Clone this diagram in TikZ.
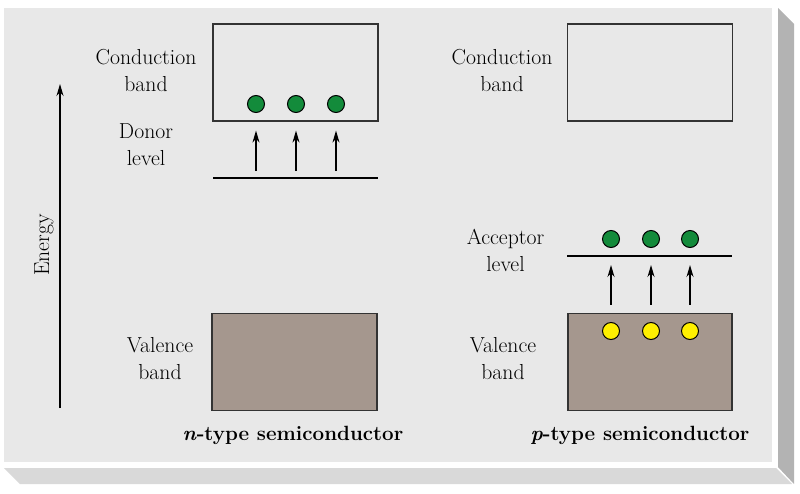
\documentclass[tikz,border=0pt]{standalone}
\usetikzlibrary{arrows.meta, positioning, calc}

\definecolor{panel}{HTML}{E8E8E8}
\definecolor{sidegray}{HTML}{B3B3B3}
\definecolor{basegray}{HTML}{D9D9D9}
\definecolor{valfill}{HTML}{A5978E}
\definecolor{elec}{HTML}{138B3B}
\definecolor{holec}{HTML}{FFF000}

\begin{document}
\begin{tikzpicture}[x=1pt,y=-1pt,
    band/.style={draw=black!80,line width=1.2pt,minimum width=165pt,minimum height=97pt,inner sep=0},
    electron/.style={circle,draw=black,line width=1pt,fill=elec,minimum size=17pt,inner sep=0},
    hole/.style={electron,fill=holec},
    lbl/.style={align=center,font=\fontsize{21.7}{27}\selectfont,inner sep=0,anchor=base},
    caption/.style={lbl,font=\fontsize{20.6}{27}\selectfont\bfseries},
    up/.style={-{Stealth[length=12pt,width=7pt]},line width=1.2pt}]
        \useasboundingbox (0,0) rectangle (800,493);

        % panel with its bevelled edges
        \fill[panel] (4,8) rectangle (772,462);
        \fill[sidegray] (778,8) -- (794,24) -- (794,484) -- (778,467) -- cycle;
        \fill[basegray] (4,468) -- (776,468) -- (792,484) -- (20,484) -- cycle;

        % energy axis
        \coordinate (eLow) at (60,408);
        \coordinate (eHigh) at (60,84);
        \draw[up] (eLow) -- (eHigh);
        \node[font=\fontsize{21.7}{27}\selectfont,rotate=90] (energy) at (44,245) {Energy};

        % n-type
        \node[band] (cbn) at (295.5,72.5) {};
        \node[band,fill=valfill] (vbn) at (294.5,362) {};
        \coordinate (dnA) at (213,178);
        \coordinate (dnB) at (378,178);
        \draw[line width=1.2pt] (dnA) -- (dnB);
        \foreach \x [count=\i] in {256,296,336} {
            \node[electron] (en\i) at (\x,104) {};
            \path[up,shorten <=7pt,shorten >=9pt] (dnA -| en\i) edge (cbn.south -| en\i);
        }
        \node[lbl] (cbnl) at (146,91) {Conduction\\band};
        \node[lbl] (dnl) at (146,165) {Donor\\level};
        \node[lbl] (vbnl) at (160,379) {Valence\\band};
        \node[caption] (ncap) at (293,440) {\textit{n}-type semiconductor};

        % p-type
        \node[band] (cbp) at (650,72.5) {};
        \node[band,fill=valfill,minimum width=164pt] (vbp) at (650,362) {};
        \coordinate (acA) at (567,256);
        \coordinate (acB) at (732,256);
        \draw[line width=1.2pt] (acA) -- (acB);
        \foreach \x [count=\i] in {611,651,690} {
            \node[electron] (ep\i) at (\x,239) {};
            \node[hole] (hp\i) at (\x,331) {};
            \path[up,shorten <=8pt,shorten >=9pt] (vbp.north -| ep\i) edge (acA -| ep\i);
        }
        \node[lbl] (cbpl) at (502,91) {Conduction\\band};
        \node[lbl] (acl) at (505.5,271) {Acceptor\\level};
        \node[lbl] (vbpl) at (503,379) {Valence\\band};
        \node[caption] (pcap) at (640,440) {\textit{p}-type semiconductor};

\end{tikzpicture}
\end{document}
